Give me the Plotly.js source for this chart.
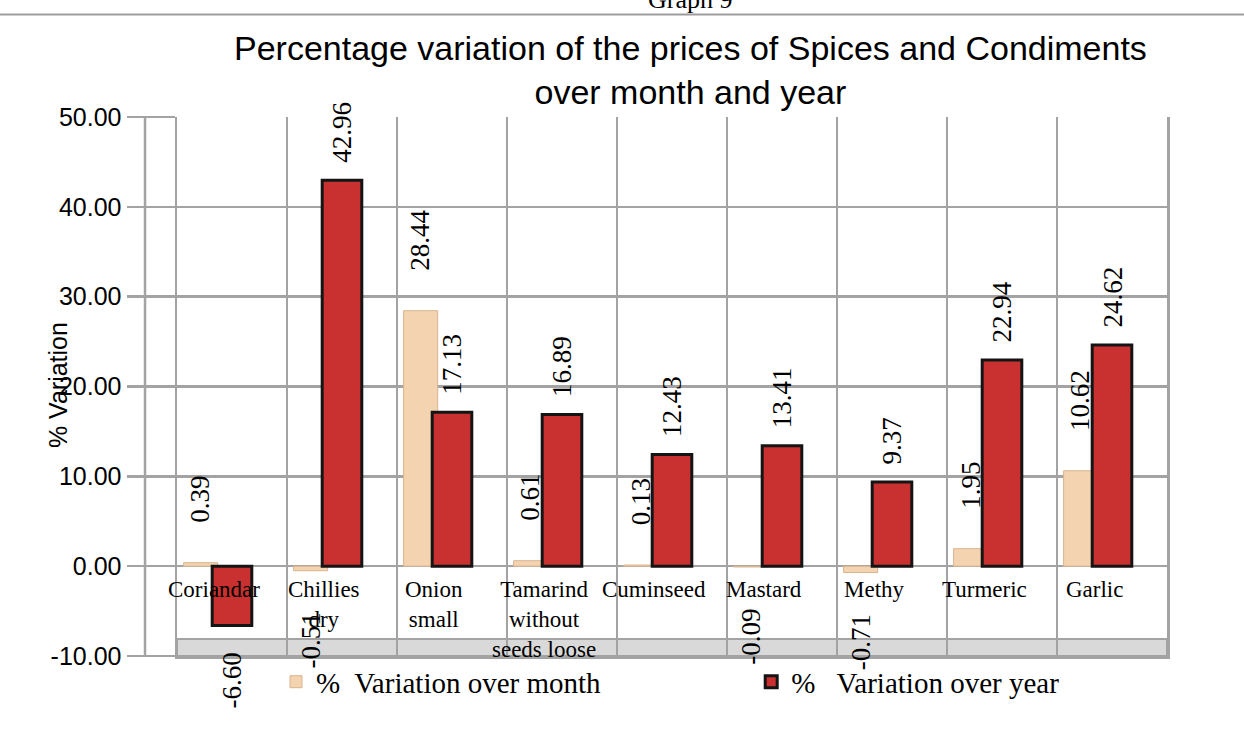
<!DOCTYPE html>
<html>
<head>
<meta charset="utf-8">
<script src="https://cdn.plot.ly/plotly-3.0.1.min.js"></script>
<style>html,body{margin:0;padding:0;background:#fff;}#chart{width:1244px;height:731px;}</style>
</head>
<body>
<div id="chart"></div>
<script>
// ---- data ----
const categories = ['Coriandar', 'Chillies dry', 'Onion small', 'Tamarind without seeds loose', 'Cuminseed', 'Mastard', 'Methy', 'Turmeric', 'Garlic'];
const categoryLabels = ['Coriandar', 'Chillies<br>dry', 'Onion<br>small', 'Tamarind<br>without<br>seeds loose', 'Cuminseed', 'Mastard', 'Methy', 'Turmeric', 'Garlic'];
const monthValues = [0.39, -0.51, 28.44, 0.61, 0.13, -0.09, -0.71, 1.95, 10.62];
const yearValues = [-6.60, 42.96, 17.13, 16.89, 12.43, 13.41, 9.37, 22.94, 24.62];
const monthName = '%\u00A0 Variation over month';
const yearName = '%\u00A0\u00A0 Variation over year';
const yTickValues = [-10, 0, 10, 20, 30, 40, 50];
const yTickLabels = ['-10.00', '0.00', '10.00', '20.00', '30.00', '40.00', '50.00'];

// ---- styling ----
const serif = 'Liberation Serif, Times New Roman, serif';
const sans = 'Liberation Sans, Arial, sans-serif';
const gridGray = '#a3a3a3';
const monthOffset = -0.44, monthWidth = 0.31;
const yearOffset = -0.18, yearWidth = 0.36;

const traces = [
  {
    type: 'bar', name: monthName, x: categories, y: monthValues,
    offset: monthOffset, width: monthWidth, legend: 'legend',
    marker: {color: '#F4D3B0', line: {color: '#D8B48E', width: 1}},
    hoverinfo: 'y'
  },
  {
    type: 'bar', name: yearName, x: categories, y: yearValues,
    offset: yearOffset, width: yearWidth, legend: 'legend2',
    marker: {color: '#C8312F', line: {color: '#141414', width: 3}},
    hoverinfo: 'y'
  }
];

const annotations = [];
// data labels
function addLabels(values, center, posShift, negShift) {
  values.forEach((v, i) => {
    annotations.push({
      x: i + center, y: v, xref: 'x', yref: 'y',
      text: v.toFixed(2), showarrow: false, textangle: -90,
      yanchor: v >= 0 ? 'bottom' : 'top',
      yshift: v >= 0 ? posShift : negShift,
      font: {family: serif, size: 27, color: '#000'}
    });
  });
}
addLabels(monthValues, monthOffset + monthWidth / 2, 38, -40);
addLabels(yearValues, yearOffset + yearWidth / 2, 15, -25);
// category labels
categoryLabels.forEach((t, i) => {
  annotations.push({
    x: i, y: 0, xref: 'x', yref: 'y', text: t, showarrow: false,
    yanchor: 'top', yshift: -9, xshift: -18,
    font: {family: serif, size: 23, color: '#000'}
  });
});
// y-axis title
annotations.push({
  x: -0.12, y: 0.503, xref: 'paper', yref: 'paper', text: '% Variation', showarrow: false,
  textangle: -90, xanchor: 'center', yanchor: 'middle',
  font: {family: sans, size: 25, color: '#000'}
});
// header remnant
annotations.push({
  x: 0.518, y: 1.188, xref: 'paper', yref: 'paper', text: 'Graph 9', showarrow: false,
  yanchor: 'bottom', font: {family: serif, size: 26, color: '#000'}
});

const layout = {
  width: 1244, height: 731,
  margin: {l: 177, r: 77, t: 117, b: 75},
  paper_bgcolor: '#fff', plot_bgcolor: '#fff',
  barmode: 'overlay',
  title: {
    text: 'Percentage variation of the prices of Spices and Condiments<br>over month and year',
    x: 0.555, xanchor: 'center', xref: 'container',
    y: 0.918, yanchor: 'top', yref: 'container',
    font: {family: sans, size: 34, color: '#000'}
  },
  xaxis: {
    type: 'category', range: [-0.5, 8.5], tickson: 'boundaries',
    showgrid: true, gridcolor: gridGray, gridwidth: 2.5,
    showticklabels: false, ticks: '', showline: true, linecolor: gridGray, linewidth: 2.5
  },
  yaxis: {
    range: [-10, 50], tickvals: yTickValues, ticktext: yTickLabels,
    showgrid: true, gridcolor: gridGray, gridwidth: 2.5,
    zeroline: true, zerolinecolor: gridGray, zerolinewidth: 2.5,
    showline: true, mirror: true, linecolor: gridGray, linewidth: 2.5,
    ticks: 'outside', ticklen: 48, tickwidth: 2.5, tickcolor: gridGray,
    tickfont: {family: sans, size: 25, color: '#000'}
  },
  showlegend: true,
  legend: {
    orientation: 'h', x: 0.1, xanchor: 'left', y: -0.048, yanchor: 'middle',
    font: {family: serif, size: 29, color: '#000'},
    bgcolor: 'rgba(0,0,0,0)'
  },
  legend2: {
    orientation: 'h', x: 0.58, xanchor: 'left', y: -0.048, yanchor: 'middle',
    font: {family: serif, size: 29, color: '#000'},
    bgcolor: 'rgba(0,0,0,0)'
  },
  annotations: annotations,
  shapes: [
    {type: 'rect', xref: 'paper', x0: 0, x1: 1, yref: 'y', y0: -10, y1: -8.1,
     fillcolor: '#d9d9d9', line: {color: gridGray, width: 2}, layer: 'below'},
    {type: 'line', xref: 'paper', x0: -0.0323, x1: -0.0323, yref: 'paper', y0: 0, y1: 1,
     line: {color: gridGray, width: 2.5}},
    {type: 'line', xref: 'paper', x0: -0.179, x1: 1.078, yref: 'paper', y0: 1.19, y1: 1.19,
     line: {color: '#9c9c9c', width: 2}}
  ]
};

Plotly.newPlot('chart', traces, layout, {displayModeBar: false, staticPlot: true});
</script>
</body>
</html>
